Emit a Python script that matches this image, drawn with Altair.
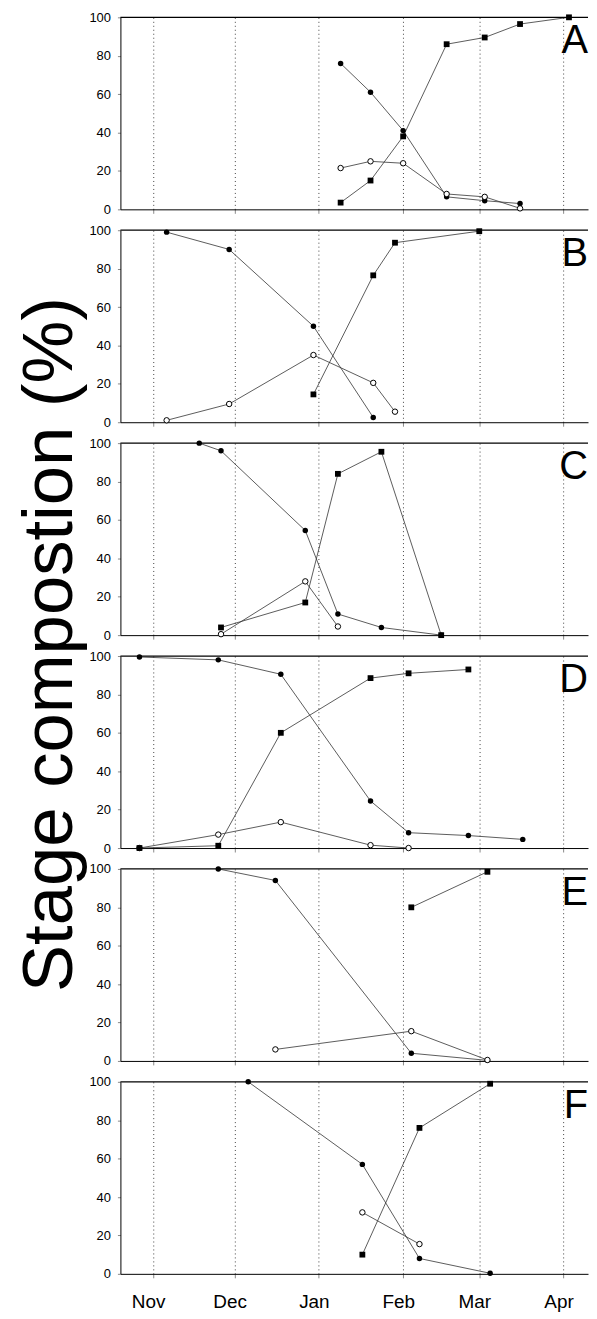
import altair as alt
import pandas as pd

FONT = "Liberation Sans"
MONTH_TICKS = ["2000-11-01", "2000-12-01", "2001-01-01", "2001-02-01", "2001-03-01", "2001-04-01"]
X_DOMAIN = ["2000-10-20", "2001-04-10"]
Y_TICKS = [0, 20, 40, 60, 80, 100]
TOP_LINE = [100]
LETTERS = ["A", "B", "C", "D", "E", "F"]

# Panel A
A_early_dates = ["2001-01-09", "2001-01-20", "2001-02-01", "2001-02-17", "2001-03-03", "2001-03-16"]
A_early_vals = [76, 61, 41, 6.5, 4.5, 3]
A_mid_dates = ["2001-01-09", "2001-01-20", "2001-02-01", "2001-02-17", "2001-03-03", "2001-03-16"]
A_mid_vals = [21.5, 25, 24, 8, 6.5, 0.5]
A_late_dates = ["2001-01-09", "2001-01-20", "2001-02-01", "2001-02-17", "2001-03-03", "2001-03-16", "2001-04-03"]
A_late_vals = [3.5, 15, 38, 86, 89.5, 96.5, 100]

# Panel B
B_early_dates = ["2000-11-06", "2000-11-29", "2000-12-30", "2001-01-21"]
B_early_vals = [99, 90, 50, 2.5]
B_mid_dates = ["2000-11-06", "2000-11-29", "2000-12-30", "2001-01-21", "2001-01-29"]
B_mid_vals = [1, 9.5, 35, 20.5, 5.5]
B_late_dates = ["2000-12-30", "2001-01-21", "2001-01-29", "2001-03-01"]
B_late_vals = [14.5, 76.5, 93.5, 99.5]

# Panel C
C_early_dates = ["2000-11-18", "2000-11-26", "2000-12-27", "2001-01-08", "2001-01-24", "2001-02-15"]
C_early_vals = [100, 96, 54.5, 11, 4, 0]
C_mid_dates = ["2000-11-26", "2000-12-27", "2001-01-08"]
C_mid_vals = [0.5, 28, 4.5]
C_late_dates = ["2000-11-26", "2000-12-27", "2001-01-08", "2001-01-24", "2001-02-15"]
C_late_vals = [4, 17, 84, 95.5, 0]

# Panel D
D_early_dates = ["2000-10-27", "2000-11-25", "2000-12-18", "2001-01-20", "2001-02-03", "2001-02-25", "2001-03-17"]
D_early_vals = [99.5, 98, 90.5, 24.5, 8, 6.5, 4.5]
D_mid_dates = ["2000-10-27", "2000-11-25", "2000-12-18", "2001-01-20", "2001-02-03"]
D_mid_vals = [0, 7, 13.5, 1.5, 0]
D_late_dates = ["2000-10-27", "2000-11-25", "2000-12-18", "2001-01-20", "2001-02-03", "2001-02-25"]
D_late_vals = [0, 1.2, 60, 88.5, 91, 93]

# Panel E
E_early_dates = ["2000-11-25", "2000-12-16", "2001-02-04", "2001-03-04"]
E_early_vals = [100, 94, 4, 0.3]
E_mid_dates = ["2000-12-16", "2001-02-04", "2001-03-04"]
E_mid_vals = [6, 15.5, 0.5]
E_late_dates = ["2001-02-04", "2001-03-04"]
E_late_vals = [80, 98.5]

# Panel F
F_early_dates = ["2000-12-06", "2001-01-17", "2001-02-07", "2001-03-05"]
F_early_vals = [100, 57, 8, 0.3]
F_mid_dates = ["2001-01-17", "2001-02-07"]
F_mid_vals = [32, 15.5]
F_late_dates = ["2001-01-17", "2001-02-07", "2001-03-05"]
F_late_vals = [10, 76, 99]

PANELS = [
    (A_early_dates, A_early_vals, A_mid_dates, A_mid_vals, A_late_dates, A_late_vals),
    (B_early_dates, B_early_vals, B_mid_dates, B_mid_vals, B_late_dates, B_late_vals),
    (C_early_dates, C_early_vals, C_mid_dates, C_mid_vals, C_late_dates, C_late_vals),
    (D_early_dates, D_early_vals, D_mid_dates, D_mid_vals, D_late_dates, D_late_vals),
    (E_early_dates, E_early_vals, E_mid_dates, E_mid_vals, E_late_dates, E_late_vals),
    (F_early_dates, F_early_vals, F_mid_dates, F_mid_vals, F_late_dates, F_late_vals),
]

W = 470
H = 193


def dt(s):
    return alt.DateTime(year=int(s[:4]), month=int(s[5:7]), date=int(s[8:10]), utc=True)


def make_panel(letter, data, last):
    ed, ev, md, mv, ld, lv = data
    rows = []
    for stage, ds, vs in (("early", ed, ev), ("mid", md, mv), ("late", ld, lv)):
        for d, v in zip(ds, vs):
            rows.append({"date": d, "value": v, "stage": stage})
    df = pd.DataFrame(rows)

    x_axis = alt.Axis(
        values=[dt(m) for m in MONTH_TICKS],
        labelExpr="utcFormat(datum.value, '%b')",
        grid=True,
        gridDash=[1, 3],
        gridColor="#000000",
        gridOpacity=0.75,
        gridWidth=1,
        tickSize=4,
        labels=last,
        labelFontSize=19,
        labelPadding=15,
        labelOffset=-5,
        labelOverlap=False,
        labelColor="#000000",
        labelFont=FONT,
        title=None,
        domainColor="#000000",
    )
    x = alt.X(
        "date:T",
        scale=alt.Scale(type="utc", domain=[dt(X_DOMAIN[0]), dt(X_DOMAIN[1])]),
        axis=x_axis,
    )
    y = alt.Y(
        "value:Q",
        scale=alt.Scale(domain=[0, 100], nice=False, zero=True),
        axis=alt.Axis(
            values=Y_TICKS,
            grid=False,
            tickSize=3,
            labelFontSize=13,
            labelPadding=7,
            labelColor="#000000",
            labelFont=FONT,
            labelOverlap=False,
            title=None,
            domainColor="#000000",
        ),
    )

    base = alt.Chart(df).encode(x=x, y=y)
    lines = base.mark_line(color="#333333", strokeWidth=0.8).encode(detail="stage:N")
    early = base.transform_filter(alt.datum.stage == "early").mark_circle(
        size=30, color="#000000", opacity=1
    )
    mid = base.transform_filter(alt.datum.stage == "mid").mark_point(
        shape="circle", size=30, filled=True, fill="#ffffff", stroke="#000000", strokeWidth=1, opacity=1
    )
    late = base.transform_filter(alt.datum.stage == "late").mark_square(
        size=34, color="#000000", opacity=1
    )
    top = alt.Chart(pd.DataFrame({"value": TOP_LINE})).mark_rule(
        color="#000000", strokeWidth=1.3
    ).encode(y=y)
    label = alt.Chart(pd.DataFrame({"t": [letter]})).mark_text(
        fontSize=40, align="right", baseline="alphabetic", font=FONT, color="#000000"
    ).encode(text="t:N", x=alt.value(W), y=alt.value(36))

    return alt.layer(lines, early, mid, late, top, label).properties(width=W, height=H)


panels = [make_panel(l, d, i == len(PANELS) - 1) for i, (l, d) in enumerate(zip(LETTERS, PANELS))]

chart = alt.vconcat(*panels, spacing=8).properties(
    title=alt.TitleParams(
        "Stage compostion (%)",
        orient="left",
        anchor="middle",
        fontSize=71,
        fontWeight="normal",
        font=FONT,
        color="#000000",
        offset=2,
        dx=17,
    ),
    padding={"left": 7, "top": 0, "right": 0, "bottom": 0},
).configure(font=FONT).configure_view(stroke=None)

chart.save("out.html", embed_options={"renderer": "svg", "actions": False})
